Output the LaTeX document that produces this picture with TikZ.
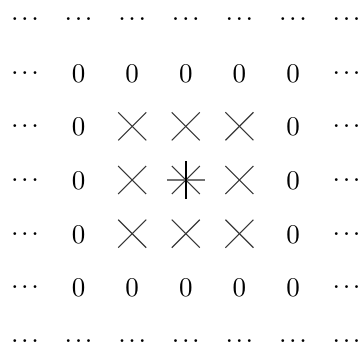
\documentclass[tikz,border=0pt]{standalone}
\usepackage{fontspec}
\newfontfamily\lmten{lmroman10-regular.otf}
\begin{document}
\begin{tikzpicture}[x=1pt,y=-1pt,
  every node/.style={inner sep=0pt,outer sep=0pt,font=\lmten\fontsize{27}{29}\selectfont},
  dotsnode/.style={},
  zeronode/.style={},
  xline/.style={line width=1.1pt,draw=black!78},
  crossbox/.style={minimum size=28pt,draw=none},
  vline/.style={line width=1.6pt,draw=black},
  hline/.style={line width=1.1pt,draw=black!55}
]
\useasboundingbox (0,0) rectangle (358,347);
\newcommand{\mydots}{.\kern2.6pt.\kern2.6pt.}
% rows and columns
\foreach \i in {0,...,6} {
  \pgfmathsetmacro{\xx}{25+53.6*\i}
  \node[dotsnode] (t\i) at (\xx,19) {\mydots};
  \node[dotsnode] (b\i) at (\xx,341) {\mydots};
}
\foreach \j in {1,...,5} {
  \pgfmathsetmacro{\yy}{19+53.67*\j}
  \node[dotsnode] (l\j) at (25,\yy) {\mydots};
  \node[dotsnode] (r\j) at (346.6,\yy) {\mydots};
}
% zeros on the border of the 5x5 block
\foreach \i in {1,...,5} {
  \pgfmathsetmacro{\xx}{25+53.6*\i}
  \node[zeronode] (z1\i) at (\xx,73.5) {0};
  \node[zeronode] (z5\i) at (\xx,287.5) {0};
}
\foreach \j in {2,3,4} {
  \pgfmathsetmacro{\yy}{19.8+53.67*\j}
  \node[zeronode] (z\j1) at (78.6,\yy) {0};
  \node[zeronode] (z\j5) at (293,\yy) {0};
}
% crosses
\foreach \j in {2,3,4} {
  \foreach \i in {2,3,4} {
    \pgfmathsetmacro{\xx}{25+53.6*\i}
    \pgfmathsetmacro{\yy}{19+53.67*\j}
    \node[crossbox] (c\j\i) at (\xx,\yy) {};
    \draw[xline] (c\j\i.north west) -- (c\j\i.south east);
    \draw[xline] (c\j\i.north east) -- (c\j\i.south west);
  }
}
% centre star
\coordinate (ctop) at ([yshift=-19pt]c33.center);
\coordinate (cbot) at ([yshift=19pt]c33.center);
\coordinate (clft) at ([xshift=-19pt]c33.center);
\coordinate (crgt) at ([xshift=19pt]c33.center);
\draw[hline] (clft) -- (crgt);
\draw[vline] (ctop) -- (cbot);
\end{tikzpicture}
\end{document}
